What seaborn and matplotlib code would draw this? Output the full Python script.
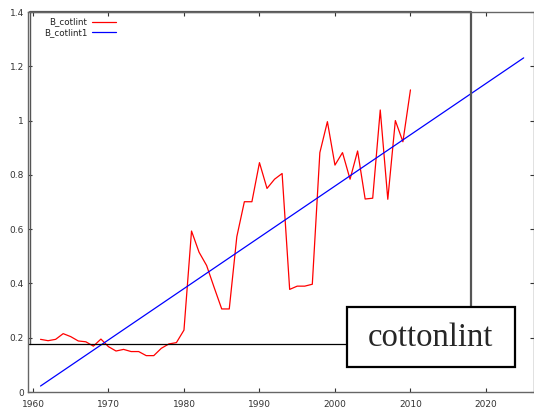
import numpy as np
import pandas as pd
import matplotlib
matplotlib.use("Agg")
import matplotlib.pyplot as plt
import seaborn as sns
from matplotlib.patches import Rectangle

# Datos
years = list(range(1961, 2011))
b_cotlint = [0.194, 0.189, 0.194, 0.215, 0.204, 0.188, 0.185, 0.169, 0.195, 0.167,
             0.151, 0.157, 0.149, 0.149, 0.134, 0.134, 0.161, 0.177, 0.182, 0.228,
             0.593, 0.515, 0.466, 0.385, 0.306, 0.306, 0.572, 0.701, 0.701, 0.845,
             0.750, 0.784, 0.805, 0.378, 0.390, 0.390, 0.397, 0.882, 0.996, 0.836,
             0.882, 0.784, 0.888, 0.711, 0.714, 1.039, 0.710, 1.000, 0.922, 1.113]
trend_years = [1961, 2025]
b_cotlint1 = [0.022, 1.231]
labels = ["B_cotlint", "B_cotlint1"]
title_box = "cottonlint"

red = pd.DataFrame({"year": years, "value": b_cotlint})
blue = pd.DataFrame({"year": trend_years, "value": b_cotlint1})

sns.set_style("ticks")
plt.rcParams["font.family"] = ["DejaVu Sans"]

fig = plt.figure(figsize=(5.34, 4.09), dpi=100)
ax = fig.add_axes([28 / 534, 17 / 409, 505.5 / 534, 380 / 409])

sns.lineplot(data=red, x="year", y="value", color="#ff0000", lw=0.9, ax=ax)
sns.lineplot(data=blue, x="year", y="value", color="#0000ff", lw=0.9, ax=ax)

ax.set_xlim(1959.34, 2026.3)
ax.set_ylim(0, 1.4)
ax.set_xticks(range(1960, 2021, 10))
ax.set_yticks([0, 0.2, 0.4, 0.6, 0.8, 1.0, 1.2, 1.4])
ax.set_yticklabels(["0", "0.2", "0.4", "0.6", "0.8", "1", "1.2", "1.4"])
ax.set_xlabel("")
ax.set_ylabel("")
ax.tick_params(direction="in", length=3, width=0.8, labelsize=6.5,
               colors="#333333", top=True, right=True, pad=3)
ax.tick_params(axis="x", pad=5.5)
for s in ax.spines.values():
    s.set_color("#666666")
    s.set_linewidth(1.0)

# Marco interior
ax.plot([1959.62, 2018], [1.4, 1.4], color="#555555", lw=1.6, clip_on=False)
ax.plot([1959.62, 1959.62], [0.178, 1.4], color="#555555", lw=1.0)
ax.plot([2018, 2018], [0.178, 1.4], color="#555555", lw=1.6)
ax.plot([1959.34, 2018], [0.178, 0.178], color="black", lw=0.9)

# Leyenda manual (texto alineado a la derecha)
for lab, col, yy in zip(labels, ["#ff0000", "#0000ff"], [0.974, 0.947]):
    ax.text(0.117, yy, lab, transform=ax.transAxes, ha="right", va="center",
            fontsize=6.3, color="#222222")
    ax.plot([0.127, 0.174], [yy, yy], transform=ax.transAxes, color=col, lw=0.9)

# Caja de texto
ax.add_patch(Rectangle((2001.6, 0.092), 22.2, 0.221, facecolor="white",
                       edgecolor="black", lw=1.6, zorder=5))
ax.text(2012.7, 0.2, title_box, ha="center", va="center", fontsize=23.5,
        family="Liberation Serif", zorder=6)

fig.savefig("out.png", dpi=100)
plt.close()
